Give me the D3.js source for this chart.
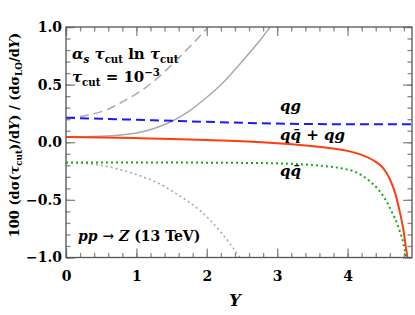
<!DOCTYPE html>
<html>
<head>
<meta charset="utf-8">
<script src="https://cdn.jsdelivr.net/npm/d3@7"></script>
<style>
  body { margin: 0; background: #fff; }
  text { font-family: "DejaVu Serif", "Liberation Serif", serif; font-weight: bold; }
</style>
</head>
<body>
<script>
// Layout constants
const WIDTH = 415;
const HEIGHT = 315;
const MARGIN = { left: 66, top: 27, right: 3, bottom: 57.5 };
const MAJOR_TICK = 9;
const MINOR_TICK = 4.5;
const FRAME_COLOR = "#555";
const TICK_COLOR = "#888";

// Axis data
const xDomain = [0, 4.915];
const yDomain = [-1, 1];
const xMajorTicks = [0, 1, 2, 3, 4];
const yMajorTicks = [-1, -0.5, 0, 0.5, 1];
const xMinorStep = 0.2;
const yMinorStep = 0.1;

// Series
const totalX = [0, 0.5, 1, 1.5, 2, 2.5, 3, 3.4, 3.8, 4.0, 4.2, 4.4, 4.5, 4.6, 4.68, 4.74, 4.79, 4.83, 4.85];
const totalY = [0.045, 0.041, 0.036, 0.029, 0.02, 0.009, -0.008, -0.028, -0.055, -0.075, -0.11, -0.17, -0.22, -0.32, -0.45, -0.6, -0.75, -0.92, -1.0];

const qgX = [0, 0.5, 1, 1.5, 2, 2.5, 3, 3.5, 4, 4.5, 4.915];
const qgY = [0.212, 0.204, 0.195, 0.186, 0.177, 0.169, 0.162, 0.158, 0.156, 0.156, 0.157];

const qqbarX = [0, 1, 2, 2.5, 3, 3.3, 3.6, 3.9, 4.1, 4.3, 4.45, 4.55, 4.64, 4.7, 4.74, 4.79, 4.83];
const qqbarY = [-0.175, -0.175, -0.177, -0.179, -0.183, -0.19, -0.203, -0.225, -0.255, -0.33, -0.42, -0.51, -0.62, -0.7, -0.77, -0.87, -1.0];

// Gray reference curves (alpha_s tau ln tau term)
const refTotalX = [0, 0.5, 1, 1.25, 1.5, 1.75, 2, 2.25, 2.5, 2.75, 2.9, 3.0];
const refTotalY = [0.046, 0.052, 0.08, 0.12, 0.18, 0.27, 0.39, 0.53, 0.70, 0.88, 1.0, 1.08];

const refQgX = [0, 0.3, 0.57, 0.8, 1.05, 1.25, 1.43, 1.6, 1.76, 1.9, 2.02, 2.1];
const refQgY = [0.212, 0.235, 0.28, 0.35, 0.44, 0.53, 0.63, 0.73, 0.83, 0.92, 1.0, 1.06];

const refQqbarX = [0, 0.3, 0.62, 1.0, 1.33, 1.6, 1.9, 2.2, 2.47, 2.55];
const refQqbarY = [-0.177, -0.185, -0.215, -0.28, -0.36, -0.46, -0.59, -0.78, -1.0, -1.07];

const series = [
  { xs: refTotalX, ys: refTotalY, color: "#aaa", width: 1.5, dash: null },
  { xs: refQgX, ys: refQgY, color: "#aaa", width: 1.5, dash: "9,5" },
  { xs: refQqbarX, ys: refQqbarY, color: "#aaa", width: 1.6, dash: "2,3" },
  { xs: qqbarX, ys: qqbarY, color: "#11aa11", width: 2, dash: "2,3" },
  { xs: qgX, ys: qgY, color: "#1a1aff", width: 2, dash: "9,5" },
  { xs: totalX, ys: totalY, color: "#ff3d0f", width: 2, dash: null }
];

const plotW = WIDTH - MARGIN.left - MARGIN.right;
const plotH = HEIGHT - MARGIN.top - MARGIN.bottom;

var svg = d3.select("body").append("svg")
  .attr("width", WIDTH)
  .attr("height", HEIGHT);

var x = d3.scaleLinear().domain(xDomain).range([0, plotW]);
var y = d3.scaleLinear().domain(yDomain).range([plotH, 0]);

var g = svg.append("g")
  .attr("transform", "translate(" + MARGIN.left + "," + MARGIN.top + ")");

g.append("defs").append("clipPath").attr("id", "clip")
  .append("rect").attr("width", plotW).attr("height", plotH);

// Curves
var line = d3.line()
  .x(d => x(d[0]))
  .y(d => y(d[1]))
  .curve(d3.curveMonotoneX);

var curves = g.append("g").attr("clip-path", "url(#clip)");
series.forEach(function(s) {
  var pts = s.xs.map((v, i) => [v, s.ys[i]]);
  curves.append("path")
    .attr("d", line(pts))
    .attr("fill", "none")
    .attr("stroke", s.color)
    .attr("stroke-width", s.width)
    .attr("stroke-dasharray", s.dash);
});

// Ticks: inward on all four sides
var xMinor = d3.range(xDomain[0], xDomain[1], xMinorStep);
var yMinor = d3.range(yDomain[0], yDomain[1] + 1e-9, yMinorStep);

var drawAxis = function(axis, transform, labels) {
  var a = g.append("g").attr("transform", transform).call(axis);
  a.select(".domain").remove();
  a.selectAll("line").attr("stroke", TICK_COLOR).attr("stroke-width", 1.3);
  if (!labels) a.selectAll("text").remove();
  return a;
};

// bottom
drawAxis(d3.axisBottom(x).tickValues(xMinor).tickSize(-MINOR_TICK), "translate(0," + plotH + ")", false);
var bx = drawAxis(d3.axisBottom(x).tickValues(xMajorTicks).tickSize(-MAJOR_TICK).tickPadding(14).tickFormat(d3.format("d")), "translate(0," + plotH + ")", true);
// top
drawAxis(d3.axisTop(x).tickValues(xMinor).tickSize(-MINOR_TICK), "translate(0,0)", false);
drawAxis(d3.axisTop(x).tickValues(xMajorTicks).tickSize(-MAJOR_TICK), "translate(0,0)", false);
// left
drawAxis(d3.axisLeft(y).tickValues(yMinor).tickSize(-MINOR_TICK), "translate(0,0)", false);
var ly = drawAxis(d3.axisLeft(y).tickValues(yMajorTicks).tickSize(-MAJOR_TICK).tickPadding(4).tickFormat(d3.format(".1f")), "translate(0,0)", true);
// right
drawAxis(d3.axisRight(y).tickValues(yMinor).tickSize(-MINOR_TICK), "translate(" + plotW + ",0)", false);
drawAxis(d3.axisRight(y).tickValues(yMajorTicks).tickSize(-MAJOR_TICK), "translate(" + plotW + ",0)", false);

bx.selectAll("text").attr("font-size", 14).attr("fill", "#000")
  .attr("font-family", "DejaVu Serif").attr("font-weight", "bold");
ly.selectAll("text").attr("font-size", 14).attr("fill", "#000")
  .attr("font-family", "DejaVu Serif").attr("font-weight", "bold");

// Frame
g.append("rect")
  .attr("width", plotW)
  .attr("height", plotH)
  .attr("fill", "none")
  .attr("stroke", FRAME_COLOR)
  .attr("stroke-width", 1.3);

// Text helper: parts = [{t, it, sub, sup}]
var richText = function(parent, px, py, size, parts) {
  var t = parent.append("text").attr("x", px).attr("y", py).attr("font-size", size);
  var shift = 0;
  parts.forEach(function(p) {
    var ts = t.append("tspan").text(p.t);
    var target = p.sub ? size * 0.25 : (p.sup ? -size * 0.4 : 0);
    ts.attr("dy", target - shift);
    shift = target;
    if (p.sub || p.sup) ts.attr("font-size", size * 0.68);
    if (p.it) ts.attr("font-style", "italic");
  });
  return t;
};

richText(svg, 72, 59, 15, [
  { t: "α", it: true }, { t: "s", it: true, sub: true },
  { t: " τ", it: true }, { t: "cut", sub: true },
  { t: " ln " },
  { t: "τ", it: true }, { t: "cut", sub: true }
]);

richText(svg, 72, 82, 15, [
  { t: "τ", it: true }, { t: "cut", sub: true },
  { t: " = 10" }, { t: "−3", sup: true }
]);

richText(svg, 280, 111, 15, [{ t: "qg", it: true }]);
richText(svg, 280, 140, 15, [{ t: "qq̄ + qg", it: true }]);
richText(svg, 280, 176, 15, [{ t: "qq̄", it: true }]);

richText(svg, 78, 241, 14, [
  { t: "pp", it: true }, { t: " → " }, { t: "Z", it: true }, { t: " (13 TeV)" }
]);

// Axis titles
svg.append("text")
  .attr("x", MARGIN.left + x(2.4))
  .attr("y", 306)
  .attr("text-anchor", "middle")
  .attr("font-size", 16)
  .attr("font-style", "italic")
  .text("Y");

var yt = richText(svg, 0, 0, 13, [
  { t: "100 (dσ(" }, { t: "τ", it: true }, { t: "cut", sub: true },
  { t: ")/d" }, { t: "Y", it: true }, { t: ") / (dσ" }, { t: "LO", sub: true },
  { t: "/d" }, { t: "Y", it: true }, { t: ")" }
]);
yt.attr("text-anchor", "middle")
  .attr("transform", "translate(19,135) rotate(-90)");
</script>
</body>
</html>
